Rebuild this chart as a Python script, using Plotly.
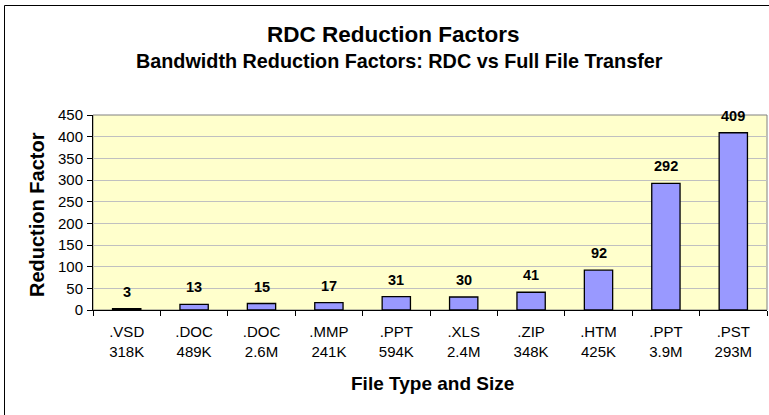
import plotly.graph_objects as go

file_types = [".VSD", ".DOC", ".DOC", ".MMP", ".PPT", ".XLS", ".ZIP", ".HTM", ".PPT", ".PST"]
file_sizes = ["318K", "489K", "2.6M", "241K", "594K", "2.4M", "348K", "425K", "3.9M", "293M"]
factors = [3, 13, 15, 17, 31, 30, 41, 92, 292, 409]

categories = [f"{t}<br>{s}" for t, s in zip(file_types, file_sizes)]

FONT = "Liberation Sans, Arial, sans-serif"

W, H = 769, 415
L, R, T, B = 93, 2, 115, 105
pw, ph = W - L - R, H - T - B


def px(x):
    return (x - L) / pw


def py(y):
    return (H - B - y) / ph


fig = go.Figure()
fig.add_trace(go.Bar(
    x=categories, y=factors,
    marker=dict(color="#9999FF", line=dict(color="#000000", width=1.3)),
    width=0.42,
    hoverinfo="x+y",
))

annotations = []
for c, v in zip(categories, factors):
    annotations.append(dict(x=c, y=v, xref="x", yref="y", text=f"<b>{v}</b>",
                            showarrow=False, yanchor="bottom", yshift=7,
                            font=dict(family=FONT, size=14.5, color="#000")))

annotations += [
    dict(x=px(393), y=py(35), xref="paper", yref="paper", text="<b>RDC Reduction Factors</b>",
         showarrow=False, xanchor="center", yanchor="middle",
         font=dict(family=FONT, size=22.5, color="#000")),
    dict(x=px(399), y=py(61), xref="paper", yref="paper",
         text="<b>Bandwidth Reduction Factors: RDC vs Full File Transfer</b>",
         showarrow=False, xanchor="center", yanchor="middle",
         font=dict(family=FONT, size=19.8, color="#000")),
    dict(x=px(432), y=py(383), xref="paper", yref="paper",
         text="<b>File Type and Size</b>",
         showarrow=False, xanchor="center", yanchor="middle",
         font=dict(family=FONT, size=19, color="#000")),
    dict(x=px(37), y=py(215), xref="paper", yref="paper",
         text="<b>Reduction Factor</b>", textangle=-90,
         showarrow=False, xanchor="center", yanchor="middle",
         font=dict(family=FONT, size=20, color="#000")),
]

shapes = [
    dict(type="rect", xref="paper", yref="paper",
         x0=px(4.5), x1=px(800), y0=py(450), y1=py(5.5),
         line=dict(color="#000", width=1), fillcolor="rgba(0,0,0,0)", layer="below"),
    dict(type="rect", xref="paper", yref="paper", x0=0, x1=1, y0=0, y1=1,
         line=dict(color="#808080", width=1), fillcolor="rgba(0,0,0,0)", layer="below"),
]

fig.update_layout(
    width=W, height=H,
    margin=dict(l=L, r=R, t=T, b=B, pad=0),
    paper_bgcolor="#FFFFFF",
    plot_bgcolor="#FFFFCC",
    showlegend=False,
    bargap=0.58,
    font=dict(family=FONT, size=15, color="#000"),
    annotations=annotations,
    shapes=shapes,
    xaxis=dict(
        type="category",
        tickson="boundaries", ticks="outside", ticklen=5, tickcolor="#000",
        tickfont=dict(family=FONT, size=15, color="#000"),
        ticklabelstandoff=8,
        showline=True, linecolor="#000", linewidth=1,
        showgrid=False, zeroline=False,
    ),
    yaxis=dict(
        range=[0, 450], dtick=50, tick0=0,
        ticks="outside", ticklen=5, tickcolor="#000",
        tickfont=dict(family=FONT, size=15, color="#000"),
        ticklabelstandoff=1,
        showline=True, linecolor="#000", linewidth=1,
        showgrid=True, gridcolor="#C0C0C0", gridwidth=1,
        zeroline=False,
    ),
)

fig.write_html("out.html", config={"displayModeBar": False},
               post_script="document.body.style.margin='0';document.body.style.overflow='hidden';")
